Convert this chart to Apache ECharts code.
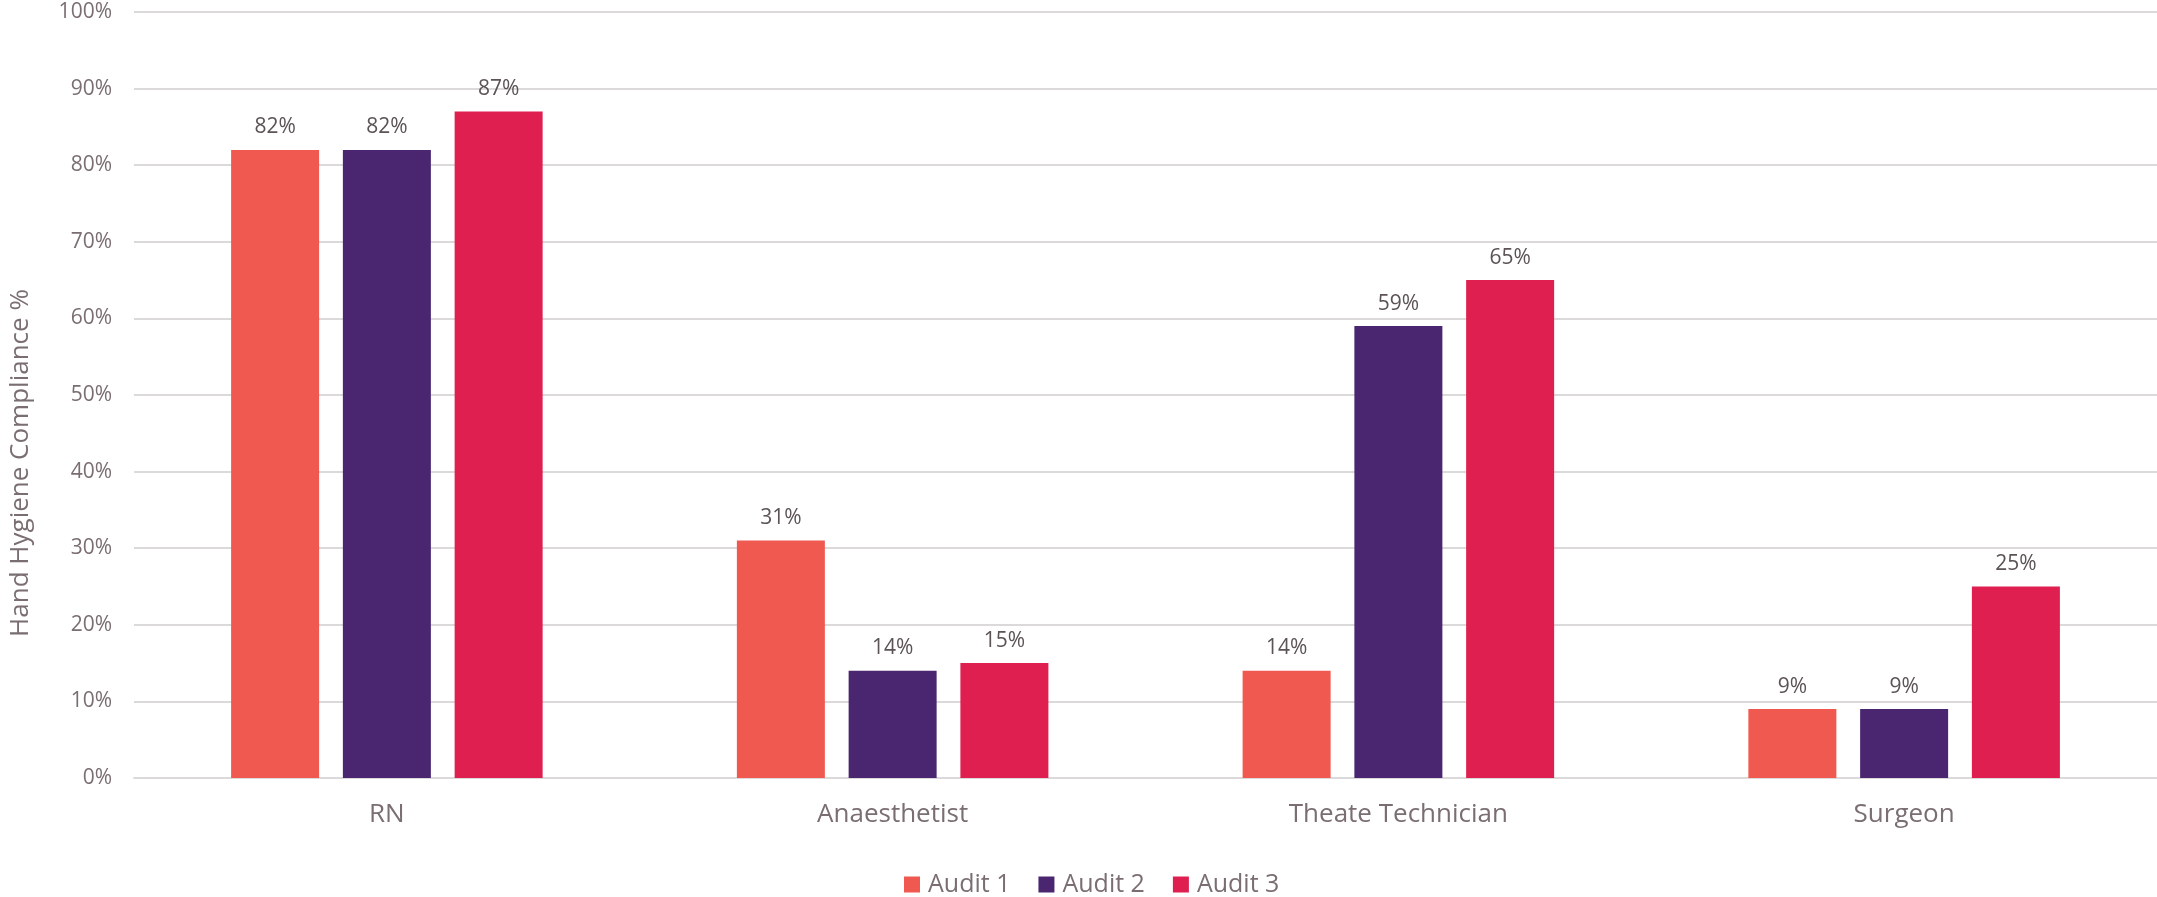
<!DOCTYPE html>
<html>
<head>
<meta charset="utf-8">
<title>Hand Hygiene Compliance</title>
<script src="https://cdn.jsdelivr.net/npm/echarts@6/dist/echarts.min.js"></script>
<style>
  html, body { margin: 0; padding: 0; background: #ffffff; }
  #chart { width: 2157px; height: 897px; }
</style>
</head>
<body>
<div id="chart"></div>
<script>
// Staff groups and audit results (percent compliant)
const categories = ['RN', 'Anaesthetist', 'Theate Technician', 'Surgeon'];
const audit1 = [82, 31, 14, 9];
const audit2 = [82, 14, 59, 9];
const audit3 = [87, 15, 65, 25];
const seriesNames = ['Audit 1', 'Audit 2', 'Audit 3'];
const seriesColors = ['#F0594F', '#4A2670', '#DE1F50'];

const FONT = '"Open Sans", "DejaVu Sans", sans-serif';
const AXIS_TEXT = '#7a6e72';
const LABEL_TEXT = '#5b5355';
const GRID_LINE = '#dcd9da';

const chart = echarts.init(document.getElementById('chart'), null, { renderer: 'canvas' });

function barSeries(name, data, color) {
  return {
    name: name,
    type: 'bar',
    data: data,
    barWidth: 88,
    barGap: '27%',
    itemStyle: { color: color },
    label: {
      show: true,
      position: 'top',
      distance: 12,
      formatter: p => p.value + '%',
      color: LABEL_TEXT,
      fontFamily: FONT,
      fontSize: 21
    }
  };
}

chart.setOption({
  animation: false,
  textStyle: { fontFamily: FONT },
  grid: { left: 133, right: 0, top: 12, bottom: 119, containLabel: false },
  legend: {
    data: seriesNames,
    left: 899,
    top: 867,
    icon: 'rect',
    itemWidth: 16,
    itemHeight: 16,
    itemGap: 28,
    textStyle: { color: AXIS_TEXT, fontFamily: FONT, fontSize: 25, padding: [0, 0, 0, 3] }
  },
  xAxis: {
    type: 'category',
    data: categories,
    axisLine: { show: true, lineStyle: { color: GRID_LINE, width: 2 } },
    axisTick: { show: false },
    axisLabel: { color: AXIS_TEXT, fontFamily: FONT, fontSize: 26, margin: 24 }
  },
  yAxis: {
    type: 'value',
    min: 0,
    max: 100,
    interval: 10,
    name: 'Hand Hygiene Compliance %',
    nameLocation: 'middle',
    nameGap: 100,
    nameRotate: 90,
    // right padding pushes the rotated title down, below the plot's midline
    nameTextStyle: { color: AXIS_TEXT, fontFamily: FONT, fontSize: 26, padding: [0, 136, 0, 0] },
    axisLine: { show: false },
    axisTick: { show: false },
    axisLabel: { color: AXIS_TEXT, fontFamily: FONT, fontSize: 21, margin: 22, formatter: v => v + '%' },
    splitLine: { lineStyle: { color: GRID_LINE, width: 2 } }
  },
  series: [
    barSeries(seriesNames[0], audit1, seriesColors[0]),
    barSeries(seriesNames[1], audit2, seriesColors[1]),
    barSeries(seriesNames[2], audit3, seriesColors[2])
  ]
});
</script>
</body>
</html>
